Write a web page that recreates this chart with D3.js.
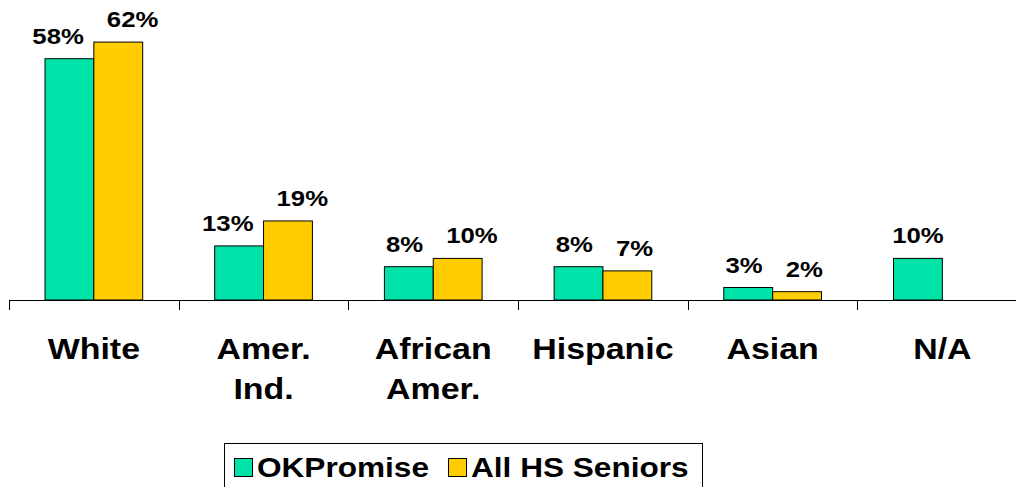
<!DOCTYPE html>
<html>
<head>
<meta charset="utf-8">
<script src="https://cdn.jsdelivr.net/npm/d3@7"></script>
<style>
  body { margin: 0; background: #fff; }
  text { font-family: "Liberation Sans", Arial, sans-serif; font-weight: bold; fill: #000; }
</style>
</head>
<body>
<div id="chart"></div>
<script>
// data
var categories = ["White", "Amer.\nInd.", "African\nAmer.", "Hispanic", "Asian", "N/A"];
var seriesNames = ["OKPromise", "All HS Seniors"];
var okPromise = [58, 13, 8, 8, 3, 10];
var allSeniors = [62, 19, 10, 7, 2, null];
var colors = ["#00E3A8", "#FFCC00"];

var width = 1016, height = 487,
  baseY = 300,
  sx = 1.17; // picture is a bit stretched sideways

var svg = d3.select("#chart")
  .append("svg")
  .attr("width", width)
  .attr("height", height);

// scales
var x = d3.scaleBand()
  .domain(categories)
  .range([9, 9 + 6 * 169.7]);

var xs = d3.scaleBand()
  .domain(seriesNames)
  .range([36, x.bandwidth() - 36]);

var y = d3.scaleLinear()
  .domain([0, 70])
  .range([baseY, baseY - 70 * 4.16]);

var rows = categories.map(function(c, i) {
  return {cat: c, vals: [okPromise[i], allSeniors[i]]};
});

// bars
var groups = svg.selectAll(".grp")
  .data(rows)
  .enter().append("g")
  .attr("class", "grp")
  .attr("transform", function(d) { return "translate(" + x(d.cat) + ",0)"; });

groups.each(function(d) {
  var g = d3.select(this);
  d.vals.forEach(function(v, j) {
    if (v == null) return;
    var x0 = xs(seriesNames[j]);
    g.append("rect")
      .attr("x", x0)
      .attr("y", y(v))
      .attr("width", xs.bandwidth())
      .attr("height", baseY - y(v))
      .attr("fill", colors[j])
      .attr("stroke", "#000")
      .attr("stroke-width", 1);

    // value label, pushed apart when both bars are there
    var both = d.vals[0] != null && d.vals[1] != null;
    var lx, anchor;
    if (!both) { lx = x0 + xs.bandwidth() / 2; anchor = "middle"; }
    else if (j == 0) { lx = x0 + xs.bandwidth() - 10; anchor = "end"; }
    else { lx = x0 + 13; anchor = "start"; }
    g.append("text")
      .attr("transform", "translate(" + lx + "," + (y(v) - 15) + ") scale(" + sx + ",1)")
      .attr("text-anchor", anchor)
      .style("font-size", "22px")
      .text(v + "%");
  });
});

// axis line and ticks
svg.append("line")
  .attr("x1", x.range()[0]).attr("x2", width)
  .attr("y1", baseY + 0.5).attr("y2", baseY + 0.5)
  .attr("stroke", "#000");

var tickPos = categories.map(function(c) { return x(c); });
svg.selectAll(".tick")
  .data(tickPos)
  .enter().append("line")
  .attr("x1", function(d) { return Math.round(d) + 0.5; })
  .attr("x2", function(d) { return Math.round(d) + 0.5; })
  .attr("y1", baseY)
  .attr("y2", baseY + 10)
  .attr("stroke", "#000");

// category labels
svg.selectAll(".cat")
  .data(categories)
  .enter().append("text")
  .attr("class", "cat")
  .attr("text-anchor", "middle")
  .attr("transform", function(d) {
    return "translate(" + (x(d) + x.bandwidth() / 2) + ",359) scale(" + sx + ",1)";
  })
  .style("font-size", "29px")
  .each(function(d) {
    var t = d3.select(this);
    d.split("\n").forEach(function(line, i) {
      t.append("tspan").attr("x", 0).attr("dy", i ? 40 : 0).text(line);
    });
  });

// legend
var legend = svg.append("g");
legend.append("rect")
  .attr("x", 224.5).attr("y", 443.5)
  .attr("width", 478).attr("height", 60)
  .attr("fill", "#fff")
  .attr("stroke", "#000");

var lx = 234;
seriesNames.forEach(function(name, i) {
  legend.append("rect")
    .attr("x", lx + 0.5).attr("y", 458.5)
    .attr("width", 18).attr("height", 18)
    .attr("fill", colors[i])
    .attr("stroke", "#000");
  var t = legend.append("text")
    .attr("transform", "translate(" + (lx + 23) + ",477) scale(" + sx + ",1)")
    .style("font-size", "27px")
    .text(name);
  lx = lx + 23 + t.node().getComputedTextLength() * sx + 19;
});
</script>
</body>
</html>
